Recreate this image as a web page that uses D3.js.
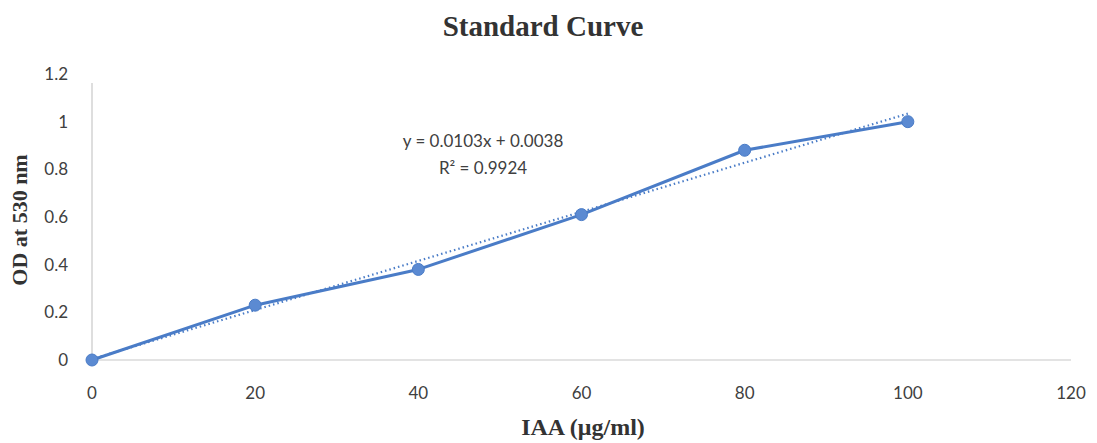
<!DOCTYPE html>
<html>
<head>
<meta charset="utf-8">
<script src="https://cdn.jsdelivr.net/npm/d3@7"></script>
<style>
  html, body { margin: 0; padding: 0; background: #ffffff; }
  svg { display: block; }
</style>
</head>
<body>
<svg id="chart" width="1097" height="443"></svg>
<script>
// ---- data ----
const xValues = [0, 20, 40, 60, 80, 100];
const odValues = [0, 0.23, 0.38, 0.61, 0.88, 1.0];
const xTicks = [0, 20, 40, 60, 80, 100, 120];
const yTicks = [0, 0.2, 0.4, 0.6, 0.8, 1, 1.2];
const trendSlope = 0.0103;
const trendIntercept = 0.0038;
const equationLines = ["y = 0.0103x + 0.0038", "R² = 0.9924"];
const titleText = "Standard Curve";
const xTitle = "IAA (μg/ml)";
const yTitle = "OD at 530 nm";

const svg = d3.select("#chart");
const x = d3.scaleLinear().domain([0, 120]).range([92, 1071]);
const y = d3.scaleLinear().domain([0, 1.2]).range([360, 74]);

const tickFont = "Lato, 'Open Sans', sans-serif";
const serif = "'Liberation Serif', 'DejaVu Serif', serif";

// axes lines
svg.append("line").attr("x1", x(0)).attr("x2", x(120)).attr("y1", y(0)).attr("y2", y(0))
  .attr("stroke", "#c8c8c8").attr("stroke-width", 1.2);
svg.append("line").attr("x1", x(0)).attr("x2", x(0)).attr("y1", 83).attr("y2", y(0))
  .attr("stroke", "#c8c8c8").attr("stroke-width", 1.2);

// tick labels
svg.append("g").selectAll("text").data(xTicks).join("text")
  .attr("x", d => x(d)).attr("y", 399)
  .attr("text-anchor", "middle")
  .attr("font-family", tickFont).attr("font-size", 17).attr("fill", "#404040")
  .text(d => d);
svg.append("g").selectAll("text").data(yTicks).join("text")
  .attr("x", 68).attr("y", d => y(d) + 6)
  .attr("text-anchor", "end")
  .attr("font-family", tickFont).attr("font-size", 17).attr("fill", "#404040")
  .text(d => d);

// trendline (dotted)
svg.append("line")
  .attr("x1", x(0)).attr("y1", y(trendIntercept))
  .attr("x2", x(100)).attr("y2", y(trendSlope * 100 + trendIntercept))
  .attr("stroke", "#4a7cc7").attr("stroke-width", 2.2)
  .attr("stroke-dasharray", "1.5,3");

// data line
const line = d3.line().x((d, i) => x(xValues[i])).y(d => y(d));
svg.append("path").datum(odValues)
  .attr("d", line).attr("fill", "none")
  .attr("stroke", "#4a7cc7").attr("stroke-width", 3).attr("stroke-linejoin", "round");

svg.append("g").selectAll("circle").data(odValues).join("circle")
  .attr("cx", (d, i) => x(xValues[i])).attr("cy", d => y(d)).attr("r", 6)
  .attr("fill", "#5b8ad2").attr("stroke", "#4a7cc7").attr("stroke-width", 1);

// equation
svg.append("g").selectAll("text").data(equationLines).join("text")
  .attr("x", 483).attr("y", (d, i) => 147 + i * 27)
  .attr("text-anchor", "middle")
  .attr("font-family", tickFont).attr("font-size", 17).attr("fill", "#404040")
  .text(d => d);

// titles
svg.append("text").attr("x", 543).attr("y", 36).attr("text-anchor", "middle")
  .attr("font-family", serif).attr("font-weight", "bold").attr("font-size", 29)
  .attr("fill", "#333333").text(titleText);
svg.append("text").attr("x", 583).attr("y", 435).attr("text-anchor", "middle")
  .attr("font-family", serif).attr("font-weight", "bold").attr("font-size", 24)
  .attr("fill", "#333333").text(xTitle);
svg.append("text").attr("transform", "translate(27,220) rotate(-90)").attr("text-anchor", "middle")
  .attr("font-family", serif).attr("font-weight", "bold").attr("font-size", 22)
  .attr("fill", "#333333").text(yTitle);
</script>
</body>
</html>
